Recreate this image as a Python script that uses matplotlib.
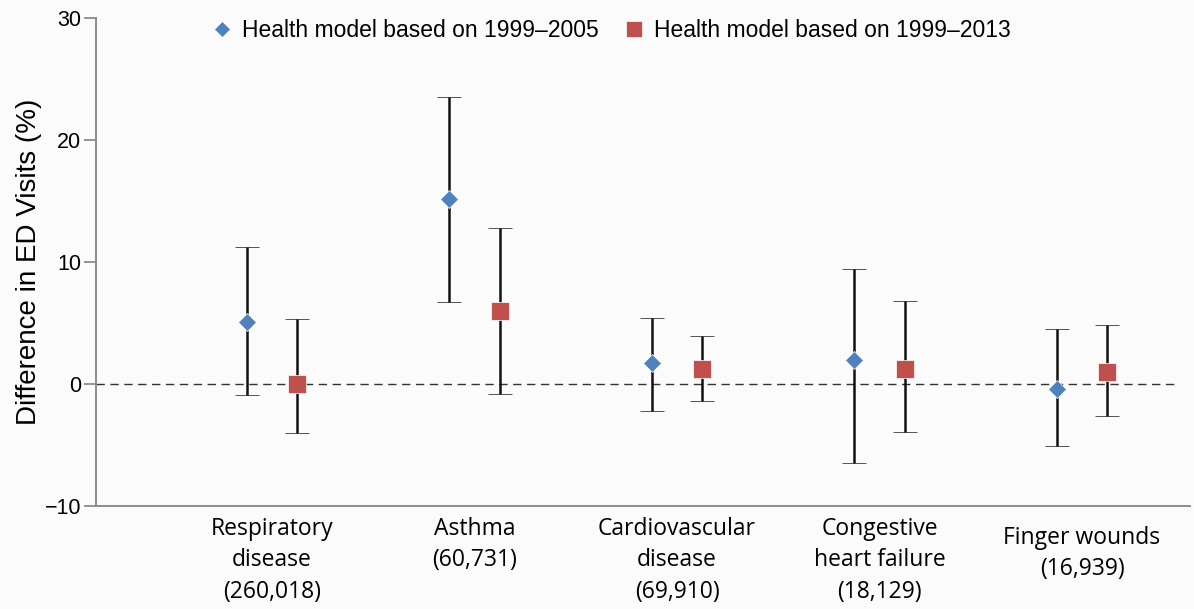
import numpy as np
import matplotlib.pyplot as plt
import matplotlib.transforms as mtransforms

# data
categories = ['Respiratory\ndisease\n(260,018)', 'Asthma\n(60,731)',
              'Cardiovascular\ndisease\n(69,910)', 'Congestive\nheart failure\n(18,129)',
              'Finger wounds\n(16,939)']
est_2005 = [5.1, 15.2, 1.7, 2.0, -0.4]
lo_2005 = [-0.9, 6.7, -2.2, -6.5, -5.1]
hi_2005 = [11.2, 23.5, 5.4, 9.4, 4.5]
est_2013 = [0.0, 6.0, 1.2, 1.2, 1.0]
lo_2013 = [-4.0, -0.8, -1.4, -3.9, -2.6]
hi_2013 = [5.3, 12.8, 3.9, 6.8, 4.8]

blue = '#4f81bd'
red = '#c0504d'
grey = '#8c8c8c'

plt.rcParams['font.family'] = ['Liberation Sans', 'DejaVu Sans']

fig = plt.figure(figsize=(11.94, 6.09), dpi=100)
fig.patch.set_facecolor('#fbfbfb')
ax = fig.add_axes([96/1194, (609-506)/609, (1190-96)/1194, (506-18)/609])
ax.set_facecolor('#fbfbfb')

x = np.arange(len(categories))
off = 0.124

e1 = np.array(est_2005)
e2 = np.array(est_2013)
yerr1 = [e1 - np.array(lo_2005), np.array(hi_2005) - e1]
yerr2 = [e2 - np.array(lo_2013), np.array(hi_2013) - e2]

ax.axhline(0, xmin=0, xmax=(4.46+0.869)/(4.533+0.869), color='#333333',
           lw=1.0, ls=(0, (6, 4)), zorder=1)

ax.errorbar(x - off, e1, yerr=yerr1, fmt='D', color=blue, ms=9.5,
            mec='white', mew=0.5, ecolor='#111111', elinewidth=1.8,
            capsize=8.5, capthick=1.8, zorder=3,
            label='Health model based on 1999\u20132005')
ax.errorbar(x + off, e2, yerr=yerr2, fmt='s', color=red, ms=13.5,
            mec='white', mew=0.5, ecolor='#111111', elinewidth=1.8,
            capsize=8.5, capthick=1.8, zorder=3,
            label='Health model based on 1999\u20132013')

ax.set_xlim(-0.869, 4.533)
ax.set_ylim(-10, 30)
ax.set_yticks([-10, 0, 10, 20, 30])
ax.set_yticklabels(['\u221210', '0', '10', '20', '30'], fontsize=15.5)
ax.tick_params(axis='y', length=8.6, width=1.3, color=grey, pad=2)
ax.set_xticks([])

for side in ['top', 'right']:
    ax.spines[side].set_visible(False)
for side in ['left', 'bottom']:
    ax.spines[side].set_color(grey)
    ax.spines[side].set_linewidth(1.4)

ax.set_ylabel('Difference in ED Visits (%)', fontsize=20, labelpad=2)

trans = mtransforms.blended_transform_factory(ax.transData, ax.transAxes)
for i, lab in enumerate(categories):
    dy = -0.022 if i < len(categories) - 1 else -0.04
    ax.text(x[i], dy, lab, transform=trans, ha='center', va='top',
            fontsize=16.5, family='Open Sans', linespacing=1.42)

handles, labels = ax.get_legend_handles_labels()
leg = ax.legend([h[0] for h in handles], labels, loc='upper left',
                bbox_to_anchor=(0.083, 1.04), ncol=2, frameon=False,
                fontsize=16.5, handletextpad=0.2, columnspacing=0.9,
                handlelength=1.3, markerscale=0.85)

fig.savefig('out.png', dpi=100, facecolor=fig.get_facecolor())
